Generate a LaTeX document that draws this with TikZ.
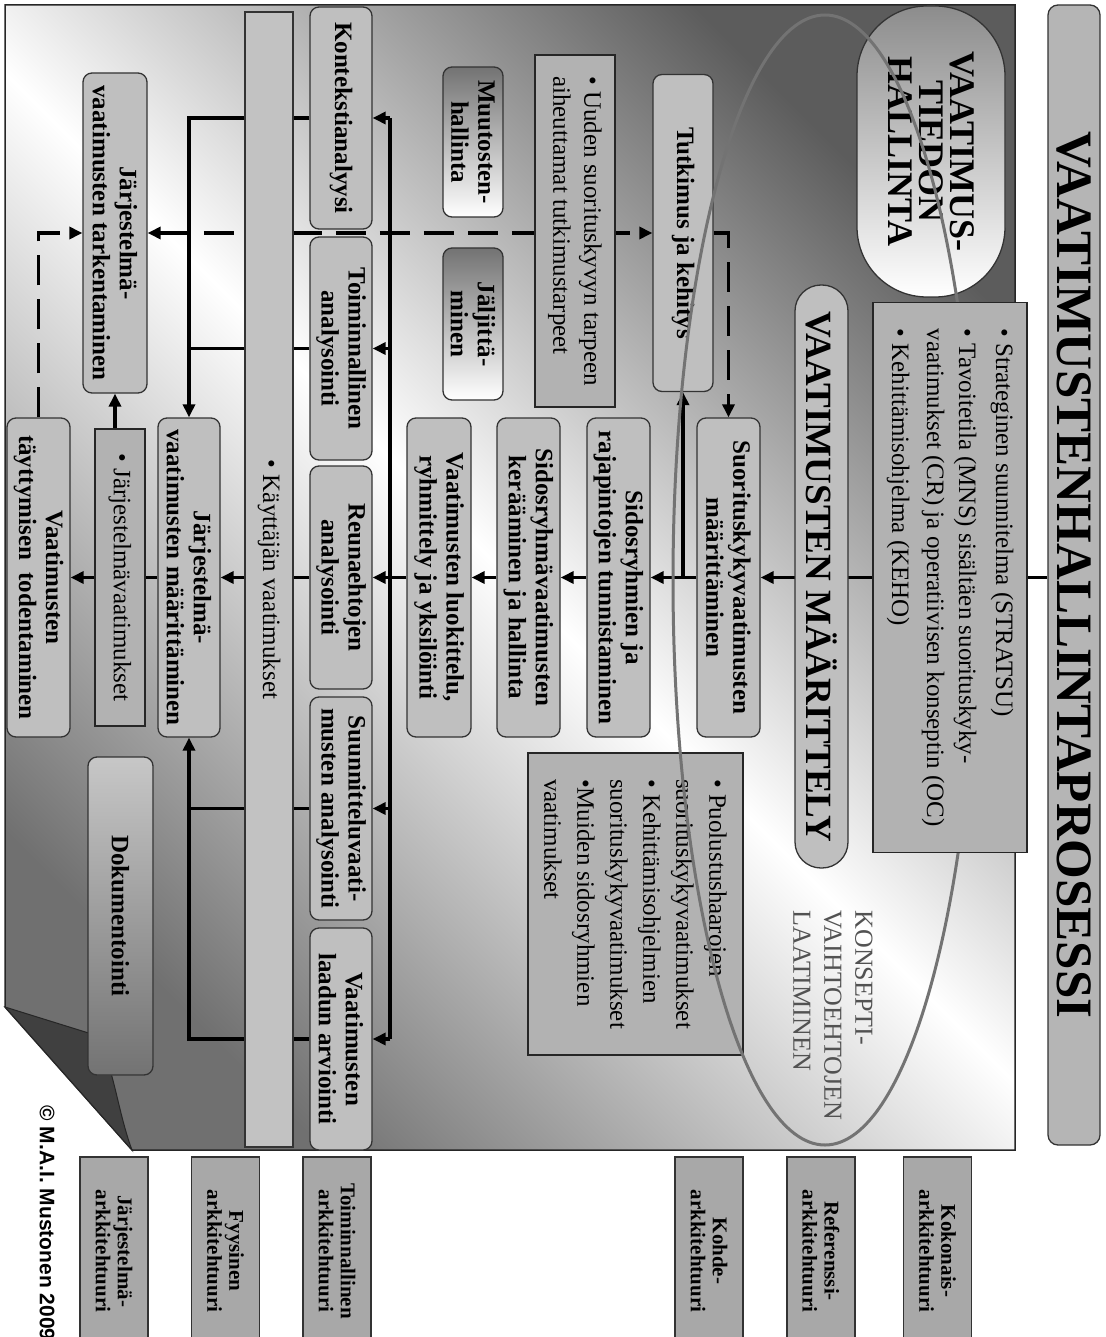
\documentclass[tikz,border=0pt]{standalone}
\usepackage{fontspec}
\setmainfont{Liberation Serif}
\newfontfamily\copyfont{Liberation Sans}
\usetikzlibrary{arrows.meta}
\newcommand\fsz[2]{\fontsize{#1}{#2}\selectfont}
\pgfdeclarelayer{backdrop}
\pgfdeclarelayer{wires}
\pgfsetlayers{backdrop,wires,main}

\begin{document}
\begin{tikzpicture}[x=1pt,y=1pt,
  sz/.style 2 args={minimum width=#1, minimum height=#2},
  procbox/.style={draw=black!80, line width=1.3pt, fill=black!25, rounded corners=9pt,
    align=center, inner sep=0pt, font=\bfseries\fsz{25}{27}},
  fadebox/.style={procbox, top color=black!55, bottom color=white},
  notebox/.style={draw=black!85, line width=1.3pt, fill=black!30, align=left,
    inner sep=0pt, font=\fsz{25}{31}},
  barbox/.style={draw=black!80, line width=1.3pt, fill=black!24, align=center,
    inner sep=0pt, font=\fsz{25}{30}},
  archbox/.style={draw=black!80, line width=1.3pt, fill=black!34, align=center,
    inner sep=0pt, font=\bfseries\fsz{21}{22}, sz={188}{68}},
  tip/.tip={Triangle[length=13pt,width=12pt]},
  link/.style={line width=3.5pt},
  flow/.style={link, -tip},
  dashlink/.style={line width=3.5pt, dash pattern=on 30pt off 14pt},
]
\useasboundingbox (0,0) rectangle (1105,-1337);

% page background with its curled corner
\begin{pgfonlayer}{backdrop}
  \shadedraw[left color=black!64, right color=black!56, middle color=white,
    shading angle=-45, draw=black!85, line width=1.5pt]
    (5,-5) -- (1015,-5) -- (1015,-1150) -- (132,-1150) -- (5,-1007) -- cycle;
  \filldraw[fill=black!75, draw=black!85, line width=1pt]
    (5,-1007) -- (95,-1035) .. controls (113,-1060) and (117,-1110) .. (132,-1150) -- cycle;
\end{pgfonlayer}

\begin{scope}[rotate=-90, transform shape]
  % research and change management
  \node[procbox, sz={317}{60}] (tutk) at (233,683) {Tutkimus ja kehitys};
  \node[notebox, sz={352}{80}] (uud) at (231,575)
    {• Uuden suorituskyvyn tarpeen\\aiheuttamat tutkimustarpeet};
  \node[fadebox, sz={150}{60}] (muut) at (142,473) {Muutosten-\\hallinta};
  \node[fadebox, sz={152}{60}] (jalj) at (324,473) {Jäljittä-\\minen};

  % main definition chain
  \node[procbox, sz={319}{63}] (suor) at (577.5,728.5) {Suorituskykyvaatimusten\\määrittäminen};
  \node[procbox, sz={319}{63}] (sid1) at (577.5,618.5) {Sidosryhmien ja\\rajapintojen tunnistaminen};
  \node[procbox, sz={319}{63}] (sid2) at (577.5,528.5) {Sidosryhmävaatimusten\\kerääminen ja hallinta};
  \node[procbox, sz={319}{64}] (luok) at (577.5,439) {Vaatimusten luokittelu,\\ryhmittely ja yksilöinti};
  \node[notebox, sz={302}{215}, font=\fsz{25}{33}] (puol) at (904,635.5)
    {• Puolustushaarojen\\suorituskykyvaatimukset\\• Kehittämisohjelmien\\suorituskykyvaatimukset\\•Muiden sidosryhmien\\vaatimukset};

  % analysis row
  \node[procbox, sz={222}{62}] (kont) at (118,341) {Kontekstianalyysi};
  \node[procbox, sz={223}{62}] (toim) at (348.5,341) {Toiminnallinen\\analysointi};
  \node[procbox, sz={223}{62}] (reun) at (577.5,341) {Reunaehtojen\\analysointi};
  \node[procbox, sz={223}{62}] (suun) at (808.5,341) {Suunnitteluvaati-\\musten analysointi};
  \node[procbox, sz={222}{62}] (laad) at (1039,341) {Vaatimusten\\laadun arviointi};

  \node[barbox, sz={1135}{48}] (bar) at (579.5,269) {• Käyttäjän vaatimukset};

  % system level
  \node[procbox, sz={320}{64}] (tark) at (233,115) {Järjestelmä-\\vaatimusten tarkentaminen};
  \node[procbox, sz={319}{62}] (maar) at (577.5,189) {Järjestelmä-\\vaatimusten määrittäminen};
  \node[notebox, sz={297}{50}] (jv) at (577.5,120) {• Järjestelmävaatimukset};
  \node[procbox, sz={319}{63}] (tayt) at (577.5,38.5) {Vaatimusten\\täyttymisen\ \ todentaminen};
  \node[procbox, sz={318}{65}, top color=black!22, bottom color=black!55] (doku) at (916,120.5) {Dokumentointi};

  % headings
  \node[procbox, sz={291}{148}, rounded corners=70pt, top color=black!45, bottom color=white,
    font=\bfseries\fsz{36}{31}] (vtied) at (151.5,931) {VAATIMUS-\\TIEDON\\HALLINTA};
  \node[procbox, sz={583}{53}, rounded corners=26pt, fill=black!25,
    font=\bfseries\fsz{37}{40}] (mart) at (576.5,821.5) {VAATIMUSTEN MÄÄRITTELY};
  \node[anchor=west, align=left, text=black!68, font=\fsz{26}{31}] (konsepti) at (907,833)
    {KONSEPTI-\\VAIHTOEHTOJEN\\LAATIMINEN};

  % concept alternatives boundary
  \draw[black!55, line width=3pt] (580,825) ellipse [x radius=565, y radius=152];

  \node[notebox, sz={550}{154}, font=\fsz{25}{32}] (strat) at (577.5,950)
    {• Strateginen suunnitelma (STRATSU)\\[5pt]• Tavoitetila (MNS) sisältäen suorituskyky-\\vaatimukset (CR) ja operatiivisen konseptin (OC)\\[3pt]• Kehittämisohjelma (KEHO)};
  \node[procbox, sz={1140}{52}, rounded corners=10pt, fill=black!29,
    font=\bfseries\fsz{51}{55}] (title) at (575,1074) {VAATIMUSTENHALLINTAPROSESSI};

  % architecture levels
  \node[archbox] (a1) at (1251,114) {Järjestelmä-\\arkkitehtuuri};
  \node[archbox] (a2) at (1251,225.5) {Fyysinen\\arkkitehtuuri};
  \node[archbox] (a3) at (1251,337) {Toiminnallinen\\arkkitehtuuri};
  \node[archbox] (a4) at (1251,709) {Kohde-\\arkkitehtuuri};
  \node[archbox] (a5) at (1251,821) {Referenssi-\\arkkitehtuuri};
  \node[archbox] (a6) at (1251,937.5) {Kokonais-\\arkkitehtuuri};

  \node[anchor=west, font=\copyfont\bfseries\fsz{21}{24}] (copy) at (1102,47) {© M.A.I. Mustonen 2009};

  % connectors
  \begin{pgfonlayer}{wires}
    \draw[link] (title.south -| strat.north) -- (strat.north);
    \draw[flow] (strat.south) -- (suor.north);
    \draw[flow] (suor.south) -- (sid1.north);
    \draw[flow] (sid1.south) -- (sid2.north);
    \draw[flow] (sid2.south) -- (luok.north);
    \draw[flow] (tutk.east -| suor.south) -- (tutk.east);
    \coordinate (brk) at (577.5,390);
    \draw[link] (luok.south) -- (brk);
    \draw[link] (kont.north |- brk) -- (laad.north |- brk);
    \foreach \b in {kont,toim,reun,suun,laad}
      \draw[flow] (\b.north |- brk) -- (\b.north);
    \draw[flow] (kont.south) |- (maar.west);
    \draw[link] (toim.south) -- (toim.south |- maar.west);
    \draw[flow] (laad.south) |- (maar.east);
    \draw[link] (suun.south) -- (suun.south |- maar.east);
    \draw[flow] (reun.south) -- (maar.north);
    \draw[link] (maar.south) -- (jv.north);
    \draw[flow] (jv.south) -- (tayt.north);
    \draw[flow] (jv.west |- tark.east) -- (tark.east);
    \draw[dashlink, -tip] (tayt.west) -| (tark.south);
    \draw[dashlink, tip-tip] (tark.north) -- (tutk.south);
    \draw[dashlink, -tip] (tutk.north) |- (suor.west);
  \end{pgfonlayer}
\end{scope}
\end{tikzpicture}
\end{document}
